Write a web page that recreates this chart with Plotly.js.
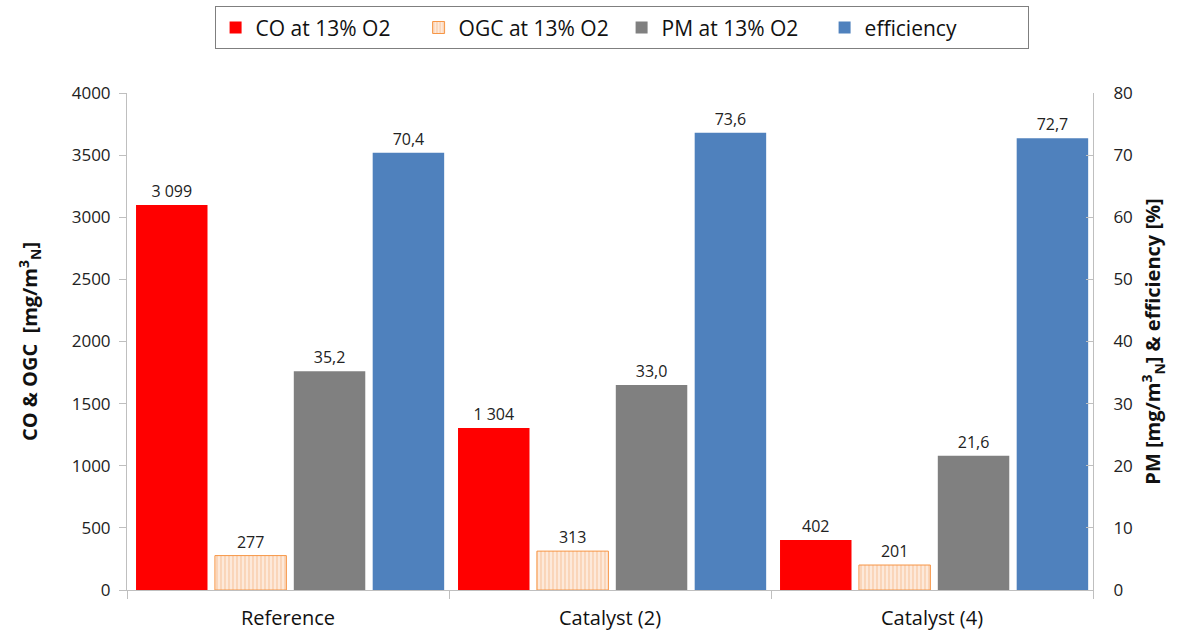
<!DOCTYPE html>
<html><head><meta charset="utf-8">
<script src="https://cdn.plot.ly/plotly-3.0.1.min.js"></script>
<style>html,body{margin:0;padding:0;background:#fff}#chart{width:1182px;height:636px}</style>
</head><body><div id="chart"></div>
<script>
const categories = ["Reference", "Catalyst (2)", "Catalyst (4)"];
const coValues = [3099, 1304, 402];
const ogcValues = [277, 313, 201];
const pmValues = [35.2, 33.0, 21.6];
const effValues = [70.4, 73.6, 72.7];
const seriesNames = ["CO at 13% O2", "OGC at 13% O2", "PM at 13% O2", "efficiency"];

const W = 0.222;
const txtFont = {family: "Open Sans, sans-serif", size: 16, color: "#222"};
const traces = [
  {type: "bar", name: seriesNames[0], x: categories, y: coValues, yaxis: "y",
   width: W, offset: -0.472, marker: {color: "#FF0000"},
   texttemplate: "%{y:,.0f}", textposition: "outside", textfont: txtFont, cliponaxis: false},
  {type: "bar", name: seriesNames[1], x: categories, y: ogcValues, yaxis: "y",
   width: W, offset: -0.227,
   marker: {color: "#FDE4D0", line: {color: "#F79646", width: 1},
            pattern: {shape: "|", fgcolor: "#F8C9A4", bgcolor: "#FDE9DA", size: 4, solidity: 0.3}},
   texttemplate: "%{y:,.0f}", textposition: "outside", textfont: txtFont, cliponaxis: false},
  {type: "bar", name: seriesNames[2], x: categories, y: pmValues, yaxis: "y2",
   width: W, offset: 0.018, marker: {color: "#808080"},
   texttemplate: "%{y:.1f}", textposition: "outside", textfont: txtFont, cliponaxis: false},
  {type: "bar", name: seriesNames[3], x: categories, y: effValues, yaxis: "y2",
   width: W, offset: 0.263, marker: {color: "#4F81BD"},
   texttemplate: "%{y:.1f}", textposition: "outside", textfont: txtFont, cliponaxis: false}
];

const axisLine = "#BFBFBF";
const layout = {
  width: 1182, height: 636,
  separators: ", ",
  paper_bgcolor: "#fff", plot_bgcolor: "#fff",
  margin: {l: 127, r: 89, t: 93, b: 46},
  font: {family: "Open Sans, sans-serif", color: "#222"},
  barmode: "overlay",
  showlegend: true,
  legend: {orientation: "h", x: 0.512, xanchor: "center", y: 0.99, yref: "container", yanchor: "top",
           bordercolor: "#7F7F7F", borderwidth: 1, bgcolor: "#fff",
           font: {size: 21, family: "Open Sans, sans-serif", color: "#111"}, traceorder: "normal",
           itemwidth: 30, entrywidth: 158, entrywidthmode: "pixels"},
  xaxis: {showline: true, linecolor: axisLine, linewidth: 1, ticks: "outside", tickson: "boundaries",
          ticklen: 8, tickcolor: axisLine, tickfont: {size: 20, color: "#111"}, showgrid: false,
          ticklabelstandoff: 10, fixedrange: true},
  yaxis: {range: [0, 4000], dtick: 500, showline: true, linecolor: axisLine, ticks: "outside",
          ticklen: 7, tickcolor: axisLine, showgrid: false, zeroline: false,
          ticklabelstandoff: 5,
          tickfont: {size: 17, color: "#222"},
          title: {text: "<b>CO & OGC  [mg/m<sup>3</sup><sub>N</sub>]</b>", font: {size: 20, color: "#111"}, standoff: 28}},
  yaxis2: {range: [0, 80], dtick: 10, overlaying: "y", side: "right", showline: true,
           linecolor: axisLine, ticks: "inside", ticklen: 7, tickcolor: axisLine,
           ticklabelstandoff: 16,
           showgrid: false, zeroline: false, tickfont: {size: 17, color: "#222"},
           title: {text: "<b>PM [mg/m<sup>3</sup><sub>N</sub>] & efficiency [%]</b>", font: {size: 20, color: "#111"}, standoff: 14}}
};
Plotly.newPlot("chart", traces, layout, {displayModeBar: false, staticPlot: true});
</script></body></html>
